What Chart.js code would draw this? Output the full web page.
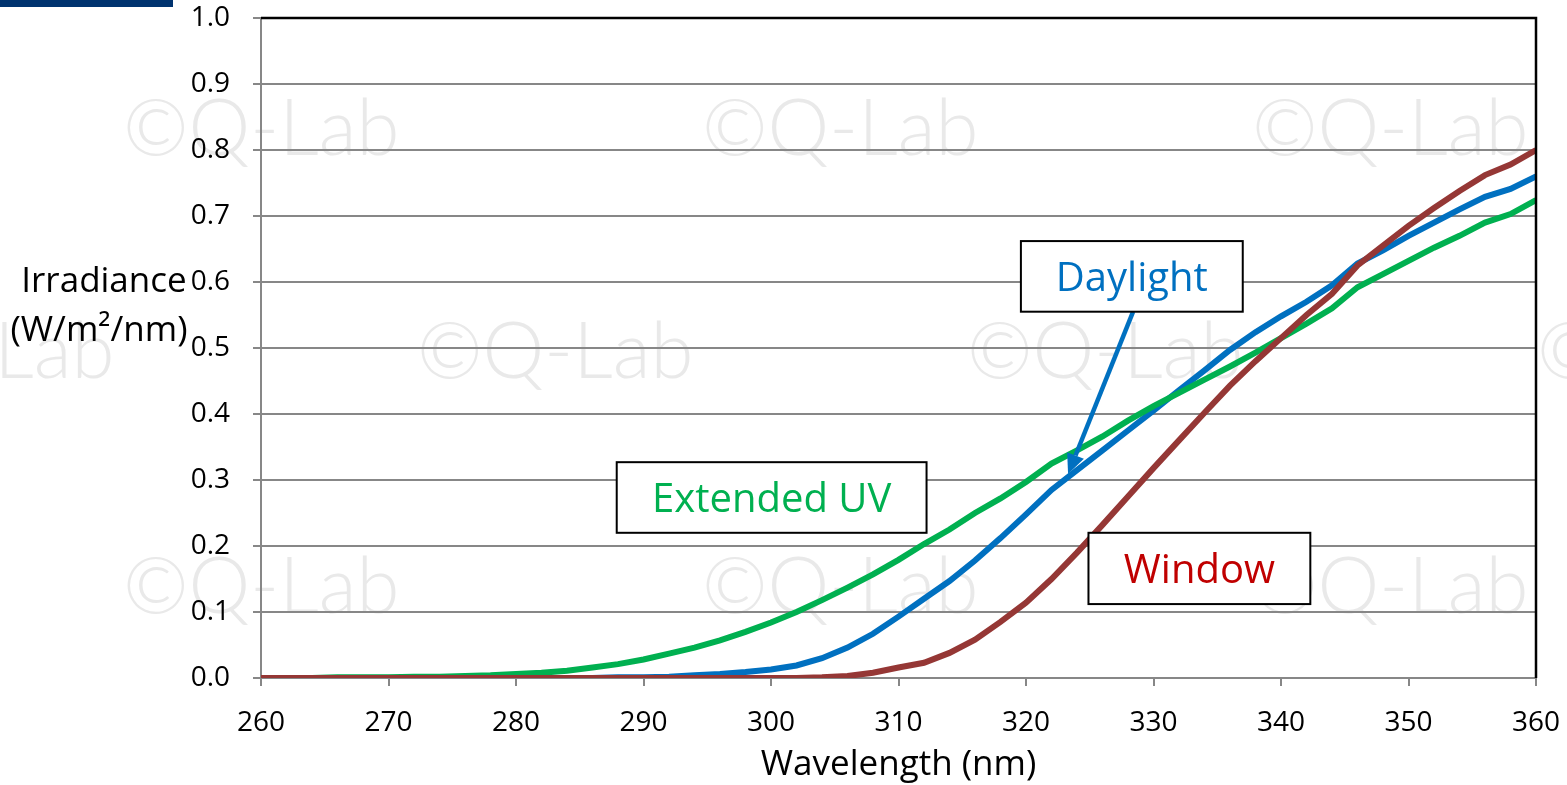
<!DOCTYPE html>
<html><head><meta charset="utf-8">
<script src="https://cdn.jsdelivr.net/npm/chart.js@4.4.1/dist/chart.umd.min.js"></script>
<style>html,body{margin:0;padding:0;background:#fff;}canvas{display:block}</style>
</head><body>
<canvas id="c" width="1567" height="785"></canvas>
<script>
const wavelengths = [260,262,264,266,268,270,272,274,276,278,280,282,284,286,288,290,292,294,296,298,300,302,304,306,308,310,312,314,316,318,320,322,324,326,328,330,332,334,336,338,340,342,344,346,348,350,352,354,356,358,360];
const extendedUV = [0.000,0.000,0.000,0.001,0.001,0.001,0.002,0.002,0.003,0.004,0.006,0.008,0.011,0.016,0.021,0.028,0.037,0.046,0.057,0.070,0.084,0.100,0.118,0.137,0.157,0.179,0.203,0.225,0.250,0.272,0.297,0.325,0.345,0.366,0.390,0.412,0.432,0.452,0.472,0.493,0.515,0.537,0.560,0.592,0.612,0.632,0.652,0.670,0.690,0.703,0.724];
const daylight = [0,0,0,0,0,0,0,0,0,0,0,0,0,0,0.001,0.001,0.002,0.004,0.006,0.009,0.013,0.019,0.030,0.046,0.067,0.093,0.120,0.147,0.178,0.212,0.248,0.285,0.315,0.345,0.375,0.405,0.436,0.466,0.497,0.524,0.548,0.570,0.595,0.628,0.648,0.670,0.690,0.710,0.729,0.741,0.760];
const windowGlass = [0,0,0,0,0,0,0,0,0,0,0,0,0,0,0,0,0,0,0,0,0,0,0.001,0.003,0.008,0.016,0.023,0.038,0.058,0.085,0.114,0.150,0.190,0.232,0.275,0.318,0.360,0.402,0.443,0.480,0.515,0.550,0.582,0.625,0.655,0.685,0.712,0.738,0.762,0.778,0.800];
const seriesNames = ['Window','Extended UV','Daylight'];
const xTitle = 'Wavelength (nm)';
const yTitleLines = ['Irradiance','(W/m²/nm)'];
const watermarkText = '©Q-Lab';

const FONT = "'Open Sans', 'Noto Sans', sans-serif";
const GRID = '#878787';

const pts = arr => wavelengths.map((x,i)=>({x, y: arr[i]}));

const decor = {
  id:'decor',
  beforeDraw(chart){
    const c = chart.ctx;
    c.save();
    c.fillStyle='#fff'; c.fillRect(0,0,chart.width,chart.height);
    c.fillStyle='#00336F'; c.fillRect(0,0,173,7);
    c.fillStyle='#e9e9e9';
    c.font = "300 78px Lato, 'Open Sans', sans-serif";
    c.textBaseline='alphabetic'; c.textAlign='left';
    const spots = [[123,155],[702,155],[1252,155],[-162,378],[417,378],[967,378],[1537,378],[123,613],[702,613],[1252,613]];
    spots.forEach(([x,y])=>c.fillText(watermarkText,x,y));
    c.restore();
  },
  afterDatasetsDraw(chart){
    const c = chart.ctx, xs = chart.scales.x, ys = chart.scales.y;
    const px = v=>xs.getPixelForValue(v), py = v=>ys.getPixelForValue(v);
    c.save();
    const ax0 = px(328.4), ay0 = py(0.555), ax1 = px(323.3), ay1 = py(0.309);
    const ang = Math.atan2(ay1-ay0, ax1-ax0);
    const hl = 20, hw = 9;
    const bx = ax1 - hl*Math.cos(ang), by = ay1 - hl*Math.sin(ang);
    c.strokeStyle='#0070C0'; c.lineWidth=4.5;
    c.beginPath(); c.moveTo(ax0,ay0); c.lineTo(bx,by); c.stroke();
    c.fillStyle='#0070C0';
    c.beginPath(); c.moveTo(ax1,ay1);
    c.lineTo(bx + hw*Math.sin(ang), by - hw*Math.cos(ang));
    c.lineTo(bx - hw*Math.sin(ang), by + hw*Math.cos(ang));
    c.closePath(); c.fill();
    const boxes = [
      {t:seriesNames[2], col:'#0070C0', x0:319.6, x1:337.0, y0:0.662, y1:0.555},
      {t:seriesNames[1], col:'#00B050', x0:287.9, x1:312.2, y0:0.327, y1:0.220},
      {t:seriesNames[0], col:'#C00000', x0:324.9, x1:342.3, y0:0.220, y1:0.112}
    ];
    c.font = "40px " + FONT;
    c.textAlign='center'; c.textBaseline='alphabetic';
    boxes.forEach(b=>{
      const l=px(b.x0), r=px(b.x1), t=py(b.y0), bt=py(b.y1);
      c.fillStyle='#fff'; c.fillRect(l,t,r-l,bt-t);
      c.strokeStyle='#000'; c.lineWidth=2; c.strokeRect(l,t,r-l,bt-t);
      c.fillStyle=b.col;
      c.fillText(b.t,(l+r)/2,(t+bt)/2+15);
    });
    c.restore();
  },
  afterDraw(chart){
    const c = chart.ctx, a = chart.chartArea;
    c.save();
    c.strokeStyle='#000'; c.lineWidth=2.5;
    c.beginPath(); c.moveTo(a.left, a.top); c.lineTo(a.right, a.top); c.lineTo(a.right, a.bottom); c.stroke();
    c.fillStyle='#000';
    c.font = "35px " + FONT;
    c.textAlign='center'; c.textBaseline='alphabetic';
    c.fillText(xTitle, (a.left+a.right)/2, 775);
    c.fillText(yTitleLines[0], 104, 292);
    c.fillText(yTitleLines[1], 99, 341);
    c.restore();
  }
};

new Chart(document.getElementById('c'), {
  type:'line',
  data:{datasets:[
    {label:seriesNames[0], data:pts(windowGlass), borderColor:'#953735', borderWidth:6, pointRadius:0, order:0, tension:0},
    {label:seriesNames[1], data:pts(extendedUV), borderColor:'#00B050', borderWidth:6, pointRadius:0, order:1, tension:0},
    {label:seriesNames[2], data:pts(daylight), borderColor:'#0070C0', borderWidth:6, pointRadius:0, order:2, tension:0}
  ]},
  options:{
    responsive:false, animation:false, devicePixelRatio:1,
    layout:{padding:{left:0,right:31,top:18,bottom:0}},
    plugins:{legend:{display:false}, tooltip:{enabled:false}},
    scales:{
      x:{type:'linear', min:260, max:360,
        ticks:{stepSize:10, font:{family:FONT, size:28}, color:'#000', padding:20, maxRotation:0, autoSkip:false},
        grid:{drawOnChartArea:false, drawTicks:true, tickLength:8, color:GRID, lineWidth:2},
        border:{color:GRID, width:2},
        afterFit(s){ s.height = 107; s.paddingLeft = 0; s.paddingRight = 0; }
      },
      y:{min:0, max:1,
        ticks:{stepSize:0.1, callback:v=>Number(v).toFixed(1), font:{family:FONT, size:28}, color:'#000', padding:23},
        grid:{color:GRID, lineWidth:2, tickLength:8},
        border:{color:GRID, width:2},
        afterFit(s){ s.width = 261; s.paddingTop = 0; s.paddingBottom = 0; }
      }
    }
  },
  plugins:[decor]
});
</script>
</body></html>
